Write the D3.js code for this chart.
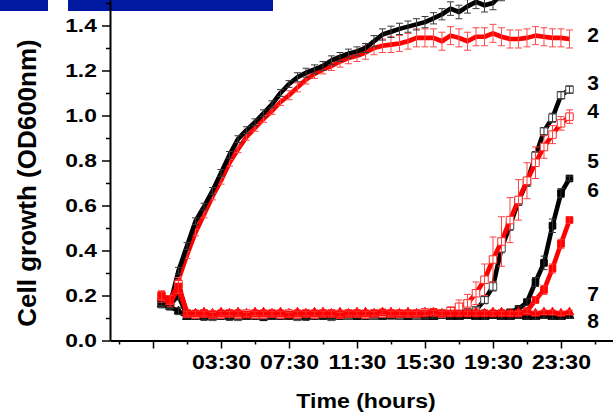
<!DOCTYPE html>
<html><head><meta charset="utf-8">
<script src="https://cdn.jsdelivr.net/npm/d3@7"></script>
<style>
body{margin:0;background:#fff}
svg{display:block}
text{font-family:"Liberation Sans",Arial,sans-serif;font-weight:bold;fill:#000}
</style>
</head><body>
<svg id="c" width="613" height="415"></svg>
<script>
// ---------- data ----------
const times = [0,0.5,1,1.5,2,2.5,3,3.5,4,4.5,
  5,5.5,6,6.5,7,7.5,8,8.5,9,9.5,
  10,10.5,11,11.5,12,12.5,13,13.5,14,14.5,
  15,15.5,16,16.5,17,17.5,18,18.5,19,19.5,
  20,20.5,21,21.5,22,22.5,23,23.5,24];

const s1 = [0.17,0.16,0.31,0.42,0.53,0.595,0.665,0.745,0.825,0.895,
  0.935,0.97,1.01,1.05,1.10,1.14,1.17,1.19,1.205,1.22,
  1.245,1.26,1.275,1.285,1.30,1.33,1.36,1.372,1.385,1.395,
  1.405,1.415,1.432,1.45,1.475,1.46,1.485,1.505,1.49,1.50,
  1.54,1.57,1.59,1.61,1.63,1.645,1.66,1.67,1.68];
const s2 = [0.20,0.17,0.27,0.38,0.48,0.56,0.64,0.71,0.79,0.85,
  0.905,0.945,0.985,1.02,1.06,1.09,1.125,1.16,1.185,1.205,
  1.22,1.24,1.255,1.265,1.28,1.30,1.31,1.315,1.32,1.33,
  1.345,1.345,1.345,1.33,1.355,1.345,1.33,1.35,1.35,1.365,
  1.35,1.34,1.34,1.345,1.355,1.35,1.345,1.345,1.34];
const s3 = [0.17,0.16,0.21,0.115,0.11,0.11,0.105,0.11,0.11,0.105,
  0.11,0.11,0.105,0.11,0.11,0.11,0.105,0.11,0.11,0.11,
  0.105,0.11,0.11,0.115,0.11,0.11,0.11,0.115,0.11,0.115,
  0.11,0.115,0.115,0.115,0.12,0.12,0.125,0.135,0.18,0.24,
  0.41,0.51,0.62,0.705,0.82,0.93,0.99,1.09,1.115];
const s4 = [0.20,0.18,0.25,0.12,0.115,0.12,0.115,0.115,0.12,0.115,
  0.12,0.115,0.115,0.12,0.115,0.12,0.115,0.12,0.115,0.12,
  0.12,0.115,0.12,0.12,0.115,0.12,0.12,0.12,0.12,0.12,
  0.12,0.125,0.125,0.12,0.13,0.15,0.165,0.21,0.27,0.36,
  0.44,0.535,0.625,0.71,0.79,0.86,0.915,0.965,0.995];
const s5 = [0.17,0.16,0.20,0.11,0.11,0.105,0.11,0.11,0.105,0.11,
  0.11,0.11,0.105,0.11,0.11,0.11,0.11,0.105,0.11,0.11,
  0.11,0.11,0.115,0.11,0.11,0.115,0.11,0.11,0.115,0.11,
  0.115,0.115,0.11,0.115,0.115,0.115,0.115,0.115,0.12,0.115,
  0.12,0.125,0.14,0.17,0.26,0.345,0.51,0.655,0.72];
const s6 = [0.20,0.18,0.24,0.12,0.12,0.12,0.115,0.12,0.12,0.12,
  0.115,0.12,0.12,0.12,0.12,0.115,0.12,0.12,0.12,0.12,
  0.12,0.115,0.12,0.12,0.12,0.12,0.125,0.12,0.12,0.12,
  0.12,0.12,0.125,0.12,0.12,0.12,0.12,0.12,0.12,0.12,
  0.12,0.12,0.12,0.13,0.18,0.225,0.32,0.43,0.535];
const s7 = [0.16,0.15,0.13,0.105,0.105,0.11,0.105,0.105,0.11,0.105,
  0.105,0.11,0.105,0.105,0.105,0.11,0.105,0.105,0.11,0.105,
  0.105,0.105,0.11,0.105,0.11,0.105,0.105,0.11,0.105,0.105,
  0.11,0.105,0.105,0.11,0.105,0.105,0.11,0.105,0.105,0.11,
  0.105,0.105,0.11,0.105,0.105,0.11,0.105,0.105,0.11];
const s8 = [0.19,0.17,0.23,0.125,0.12,0.125,0.12,0.125,0.12,0.125,
  0.12,0.125,0.125,0.12,0.125,0.12,0.125,0.12,0.125,0.125,
  0.12,0.125,0.12,0.125,0.125,0.12,0.125,0.125,0.12,0.125,
  0.12,0.125,0.125,0.12,0.125,0.12,0.125,0.125,0.12,0.125,
  0.125,0.12,0.125,0.125,0.12,0.125,0.125,0.12,0.125];

// error bars (± SD)
const e1 = [0.01,0.01,0.015,0.015,0.015,0.015,0.015,0.015,0.015,0.015,
  0.015,0.015,0.015,0.015,0.015,0.015,0.02,0.02,0.02,0.02,
  0.02,0.02,0.02,0.02,0.02,0.025,0.025,0.025,0.025,0.025,
  0.025,0.025,0.025,0.025,0.03,0.03,0.03,0.03,0.03,0.03,
  0.03,0.03,0.03,0.03,0.03,0.03,0.03,0.03,0.03];
const e2 = [0.01,0.01,0.015,0.015,0.015,0.015,0.015,0.015,0.015,0.015,
  0.015,0.015,0.015,0.015,0.015,0.02,0.02,0.02,0.02,0.02,
  0.02,0.025,0.025,0.025,0.03,0.03,0.03,0.035,0.035,0.035,
  0.04,0.04,0.04,0.04,0.04,0.04,0.04,0.04,0.04,0.04,
  0.04,0.04,0.04,0.04,0.04,0.04,0.04,0.04,0.04];
const e3 = [0.015,0.015,0.02,0.01,0.01,0.01,0.01,0.01,0.01,0.01,
  0.01,0.01,0.01,0.01,0.01,0.01,0.01,0.01,0.01,0.01,
  0.01,0.01,0.01,0.01,0.01,0.01,0.01,0.01,0.01,0.01,
  0.01,0.01,0.01,0.01,0.01,0.01,0.01,0.01,0.015,0.02,
  0.02,0.02,0.02,0.02,0.02,0.015,0.02,0.015,0.015];
const e4 = [0.02,0.02,0.03,0.01,0.01,0.01,0.01,0.01,0.01,0.01,
  0.01,0.01,0.01,0.01,0.01,0.01,0.01,0.01,0.01,0.01,
  0.01,0.01,0.01,0.01,0.01,0.01,0.01,0.01,0.01,0.01,
  0.01,0.01,0.01,0.015,0.02,0.03,0.04,0.05,0.07,0.10,
  0.11,0.10,0.09,0.08,0.07,0.05,0.04,0.03,0.03];
const e5 = [0.015,0.015,0.02,0.01,0.01,0.01,0.01,0.01,0.01,0.01,
  0.01,0.01,0.01,0.01,0.01,0.01,0.01,0.01,0.01,0.01,
  0.01,0.01,0.01,0.01,0.01,0.01,0.01,0.01,0.01,0.01,
  0.01,0.01,0.01,0.01,0.01,0.01,0.01,0.01,0.01,0.01,
  0.01,0.01,0.01,0.015,0.02,0.03,0.03,0.02,0.01];
const e6 = [0.02,0.02,0.03,0.01,0.01,0.01,0.01,0.01,0.01,0.01,
  0.01,0.01,0.01,0.01,0.01,0.01,0.01,0.01,0.01,0.01,
  0.01,0.01,0.01,0.01,0.01,0.01,0.01,0.01,0.01,0.01,
  0.01,0.01,0.01,0.01,0.01,0.01,0.01,0.01,0.01,0.01,
  0.01,0.01,0.01,0.01,0.015,0.02,0.02,0.02,0.015];
const e7 = [0.015,0.015,0.015,0.01,0.01,0.01,0.01,0.01,0.01,0.01,
  0.01,0.01,0.01,0.01,0.01,0.01,0.01,0.01,0.01,0.01,
  0.01,0.01,0.01,0.01,0.01,0.01,0.01,0.01,0.01,0.01,
  0.01,0.01,0.01,0.01,0.01,0.01,0.01,0.01,0.01,0.01,
  0.01,0.01,0.01,0.01,0.01,0.01,0.01,0.01,0.01];
const e8 = [0.02,0.02,0.02,0.01,0.01,0.01,0.01,0.01,0.01,0.01,
  0.01,0.01,0.01,0.01,0.01,0.01,0.01,0.01,0.01,0.01,
  0.01,0.01,0.01,0.01,0.01,0.01,0.01,0.01,0.01,0.01,
  0.01,0.01,0.01,0.01,0.01,0.01,0.01,0.01,0.01,0.01,
  0.01,0.01,0.01,0.01,0.01,0.01,0.01,0.01,0.01];

const seriesNames = ["1","2","3","4","5","6","7","8"];
const seriesValues = [s1,s2,s3,s4,s5,s6,s7,s8];
const seriesErrors = [e1,e2,e3,e4,e5,e6,e7,e8];

const xTickValues = [-0.5,3.5,7.5,11.5,15.5,19.5,23.5];
const xTickLabels = ["","03:30","07:30","11:30","15:30","19:30","23:30"];
const xMinorTicks = [-2.5,1.5,5.5,9.5,13.5,17.5,21.5,25.5];
const yTickValues = [0,0.2,0.4,0.6,0.8,1.0,1.2,1.4];
const yTickLabels = ["0.0","0.2","0.4","0.6","0.8","1.0","1.2","1.4"];
const yMinorTicks = [0.1,0.3,0.5,0.7,0.9,1.1,1.3,1.5];
const xTitle = "Time (hours)";
const yTitle = "Cell growth (OD600nm)";

// ---------- layout / style ----------
const svg = d3.select("#c");
const x = d3.scaleLinear().domain([-3.03, 26.56]).range([110, 613]);
const y = d3.scaleLinear().domain([0, 1.5133]).range([340.5, 0]);

const RED = "#ff0000", BLACK = "#000000";
const style = {
  "1": {color: BLACK, err: "#3a3a3a", marker: null},
  "2": {color: RED, err: "#ff4a4a", marker: null},
  "3": {color: BLACK, err: "#3a3a3a", marker: "open", mstroke: "#444"},
  "4": {color: RED, err: "#ff4040", marker: "open", mstroke: "#ff2a2a"},
  "5": {color: BLACK, err: "#333", marker: "square"},
  "6": {color: RED, err: "#ff3030", marker: "square"},
  "7": {color: BLACK, err: "#333", marker: "triangle"},
  "8": {color: RED, err: "#ff3030", marker: "triangle"}
};
const drawOrder = ["2","1","7","3","5","8","4","6"];
// label anchor positions for series numbers at right (pixel centers)
const labelLayout = {"2": 34.5, "3": 82.5, "4": 110.5, "5": 160.5, "6": 189.5, "7": 293.5, "8": 320.5};

// header bars (cropped from original figure)
svg.append("rect").attr("x",0).attr("y",0).attr("width",48).attr("height",11).attr("fill","#0019a0");
svg.append("rect").attr("x",68).attr("y",0).attr("width",205).attr("height",11).attr("fill","#0019a0");

svg.append("clipPath").attr("id","clip").append("rect")
  .attr("x",110).attr("y",0).attr("width",503).attr("height",341);

const plot = svg.append("g").attr("clip-path","url(#clip)");
const line = d3.line().x((d,i)=>x(times[i])).y(d=>y(d));

drawOrder.forEach(name => {
  const k = seriesNames.indexOf(name);
  const vals = seriesValues[k], errs = seriesErrors[k], st = style[name];
  const g = plot.append("g");
  g.append("path").datum(vals).attr("d", line)
    .attr("fill","none").attr("stroke",st.color).attr("stroke-width",4.6)
    .attr("stroke-linejoin","round");
  // markers
  if (st.marker) {
    const sym = st.marker === "triangle" ? d3.symbolTriangle : d3.symbolSquare;
    const size = st.marker === "open" ? 56 : (st.marker === "square" ? 44 : 34);
    g.selectAll("path.m").data(vals).join("path").attr("class","m")
      .attr("transform",(d,i)=>`translate(${x(times[i])},${y(d)})`)
      .attr("d", d3.symbol().type(sym).size(size)())
      .attr("fill", st.marker === "open" ? "#fff" : st.color)
      .attr("stroke", st.marker === "open" ? st.mstroke : st.color)
      .attr("stroke-width", 1);
  }
  // error bars
  const eb = g.append("g").attr("stroke", st.err).attr("stroke-width",1).attr("fill","none");
  vals.forEach((v,i) => {
    const cx = x(times[i]), y1 = y(v + errs[i]), y2 = y(v - errs[i]);
    eb.append("line").attr("x1",cx).attr("x2",cx).attr("y1",y1).attr("y2",y2);
    eb.append("line").attr("x1",cx-3.5).attr("x2",cx+3.5).attr("y1",y1).attr("y2",y1);
    eb.append("line").attr("x1",cx-3.5).attr("x2",cx+3.5).attr("y1",y2).attr("y2",y2);
  });
});

// ---------- axes ----------
const gx = svg.append("g").attr("transform",`translate(0,${y(0)})`);
gx.call(d3.axisBottom(x).tickValues(xTickValues).tickFormat((d,i)=>xTickLabels[i])
  .tickSize(8).tickSizeOuter(0).tickPadding(6));
const gxm = svg.append("g").attr("transform",`translate(0,${y(0)})`);
gxm.call(d3.axisBottom(x).tickValues(xMinorTicks).tickFormat("").tickSize(4).tickSizeOuter(0));
gxm.select(".domain").remove();

const gy = svg.append("g").attr("transform",`translate(${x.range()[0]},0)`);
gy.call(d3.axisLeft(y).tickValues(yTickValues).tickFormat((d,i)=>yTickLabels[i])
  .tickSize(8).tickSizeOuter(0).tickPadding(3));
const gym = svg.append("g").attr("transform",`translate(${x.range()[0]},0)`);
gym.call(d3.axisLeft(y).tickValues(yMinorTicks).tickFormat("").tickSize(4).tickSizeOuter(0));
gym.select(".domain").remove();

[gx,gy].forEach(g=>g.select(".domain").attr("stroke","#000").attr("stroke-width",2));
svg.selectAll(".tick line").attr("stroke","#000").attr("stroke-width",1.5);

gx.selectAll(".tick text").attr("font-size",21).attr("font-family",null)
  .attr("transform","scale(1.1,1)");
gy.selectAll(".tick text").attr("font-size",19).attr("font-family",null)
  .attr("transform","scale(1.2,1)");

svg.append("text").attr("x",366).attr("y",408).attr("text-anchor","middle")
  .attr("font-size",21).attr("transform","translate(366,0) scale(1.1,1) translate(-366,0)")
  .text(xTitle);
svg.append("text").attr("transform","translate(36,183) rotate(-90)").attr("text-anchor","middle")
  .attr("font-size",26).text(yTitle);

// series number labels
Object.keys(labelLayout).forEach(name => {
  svg.append("text").attr("x",593).attr("y",labelLayout[name]).attr("dy","0.36em")
    .attr("text-anchor","middle").attr("font-size",21).text(name);
});
</script>
</body></html>
